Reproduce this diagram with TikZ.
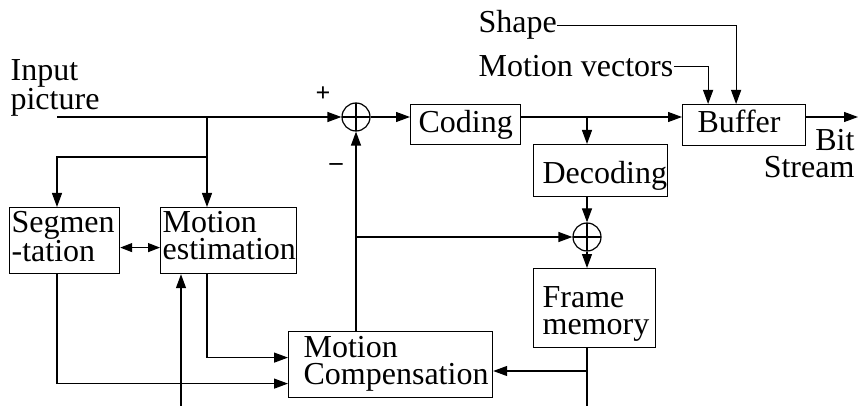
\documentclass[tikz,border=0pt]{standalone}
\usepackage{fontspec}
\setmainfont{Liberation Serif}
\usetikzlibrary{arrows.meta,positioning}
\hyphenpenalty=10000
\exhyphenpenalty=10000
\tikzset{
  blk/.style={draw,anchor=north west,inner ysep=0pt,align=left},
  sumnode/.style={draw,circle,minimum size=28pt,inner sep=0pt,
    path picture={\draw (path picture bounding box.north) -- (path picture bounding box.south)
      (path picture bounding box.west) -- (path picture bounding box.east);}},
  arr/.style={-{Triangle[length=14pt,width=10pt]}},
  dbl/.style={{Triangle[length=12pt,width=9pt]}-{Triangle[length=12pt,width=9pt]}},
  lbl/.style={inner sep=0pt,align=left},
  sgn/.style={font=\fontsize{26}{26}\selectfont\bfseries}
}

\begin{document}
\begin{tikzpicture}[x=1pt,y=-1pt,line width=1.2pt,
  every node/.style={font=\fontsize{32}{26.5}\selectfont}]
  \useasboundingbox (0,0) rectangle (859,406);

  % blocks
  \node[blk,inner xsep=2pt,text width=106pt,text height=25pt,text depth=41pt] (seg) at (9,207) {Segmen\\-tation};
  \node[blk,inner xsep=2pt,text width=132pt,text height=25pt,text depth=41pt] (mest) at (160,207) {Motion\\estimation};
  \node[blk,inner xsep=15pt,text width=174pt,text height=26pt,text depth=40pt] (mcomp) at (288,331) {Motion\\Compensation};
  \node[blk,inner xsep=9pt,text width=104pt,text height=39pt,text depth=40pt] (fmem) at (533,268) {Frame\\memory};
  \node[blk,inner xsep=9pt,text width=116pt,text height=39pt,text depth=13pt] (dec) at (533,144) {Decoding};
  \node[blk,inner xsep=8pt,text width=94pt,text height=28pt,text depth=12pt] (cod) at (410,104) {Coding};
  \node[blk,inner xsep=15pt,text width=93pt,text height=28pt,text depth=13pt] (buf) at (682,104) {Buffer};
  \node[sumnode] (sa) at (356,117) {};
  \node[sumnode] (sb) at (587,237) {};

  % labels
  \node[lbl,anchor=north west,text width=110pt,text height=22pt] (inp) at (10,58) {Input\\picture};
  \node[lbl,anchor=base west] (shp) at (478,33) {Shape};
  \node[lbl,anchor=base west] (mv) at (478,77) {Motion vectors};
  \node[lbl,anchor=north east,text width=95pt,align=right,text height=22pt] (bs) at (855,128) {Bit\\Stream};
  \node[sgn] (pl) at (323,94) {+};
  \node[sgn] (mi) at (336,167) {--};

  \coordinate (in) at (57,117);
  \coordinate (ja) at (207,117);
  \coordinate (jb) at (207,157);
  \coordinate (mvin) at (181,406);
  \coordinate (fmout) at (587,406);
  \coordinate (jc) at (587,371);
  \coordinate (bsout) at (858,117);

  % connectors
  \draw[arr] (in) -- (sa);
  \draw[arr] (ja) -- (ja |- mest.north);
  \draw[arr] (jb) -| (in |- seg.north);
  \draw[arr] (in |- seg.south) |- ([shift={(0,19)}]mcomp.west);
  \draw[arr] (ja |- mest.south) |- ([shift={(0,-7)}]mcomp.west);
  \draw[arr] (mvin) -- (mvin |- mest.south);
  \draw[dbl] ([shift={(0,7)}]seg.east) -- ([shift={(0,7)}]mest.west);
  \draw[arr] (sa |- mcomp.north) -- (sa);
  \draw[arr] (sa |- sb) -- (sb);
  \draw[arr] (sa) -- (sa -| cod.west);
  \draw[arr] (cod.east |- sa) -- (buf.west |- sa);
  \draw[arr] (sb |- sa) -- (sb |- dec.north);
  \draw[arr] (sb |- dec.south) -- (sb);
  \draw[arr] (sb) -- (sb |- fmem.north);
  \draw (sb |- fmem.south) -- (fmout);
  \draw[arr] (jc) -- (jc -| mcomp.east);
  \draw[arr] (buf.east |- sa) -- (bsout);
  \draw[arr] (shp.east) -| ([xshift=-8pt]buf.north);
  \draw[arr] (mv.east) -| ([xshift=-36pt]buf.north);
\end{tikzpicture}
\end{document}
